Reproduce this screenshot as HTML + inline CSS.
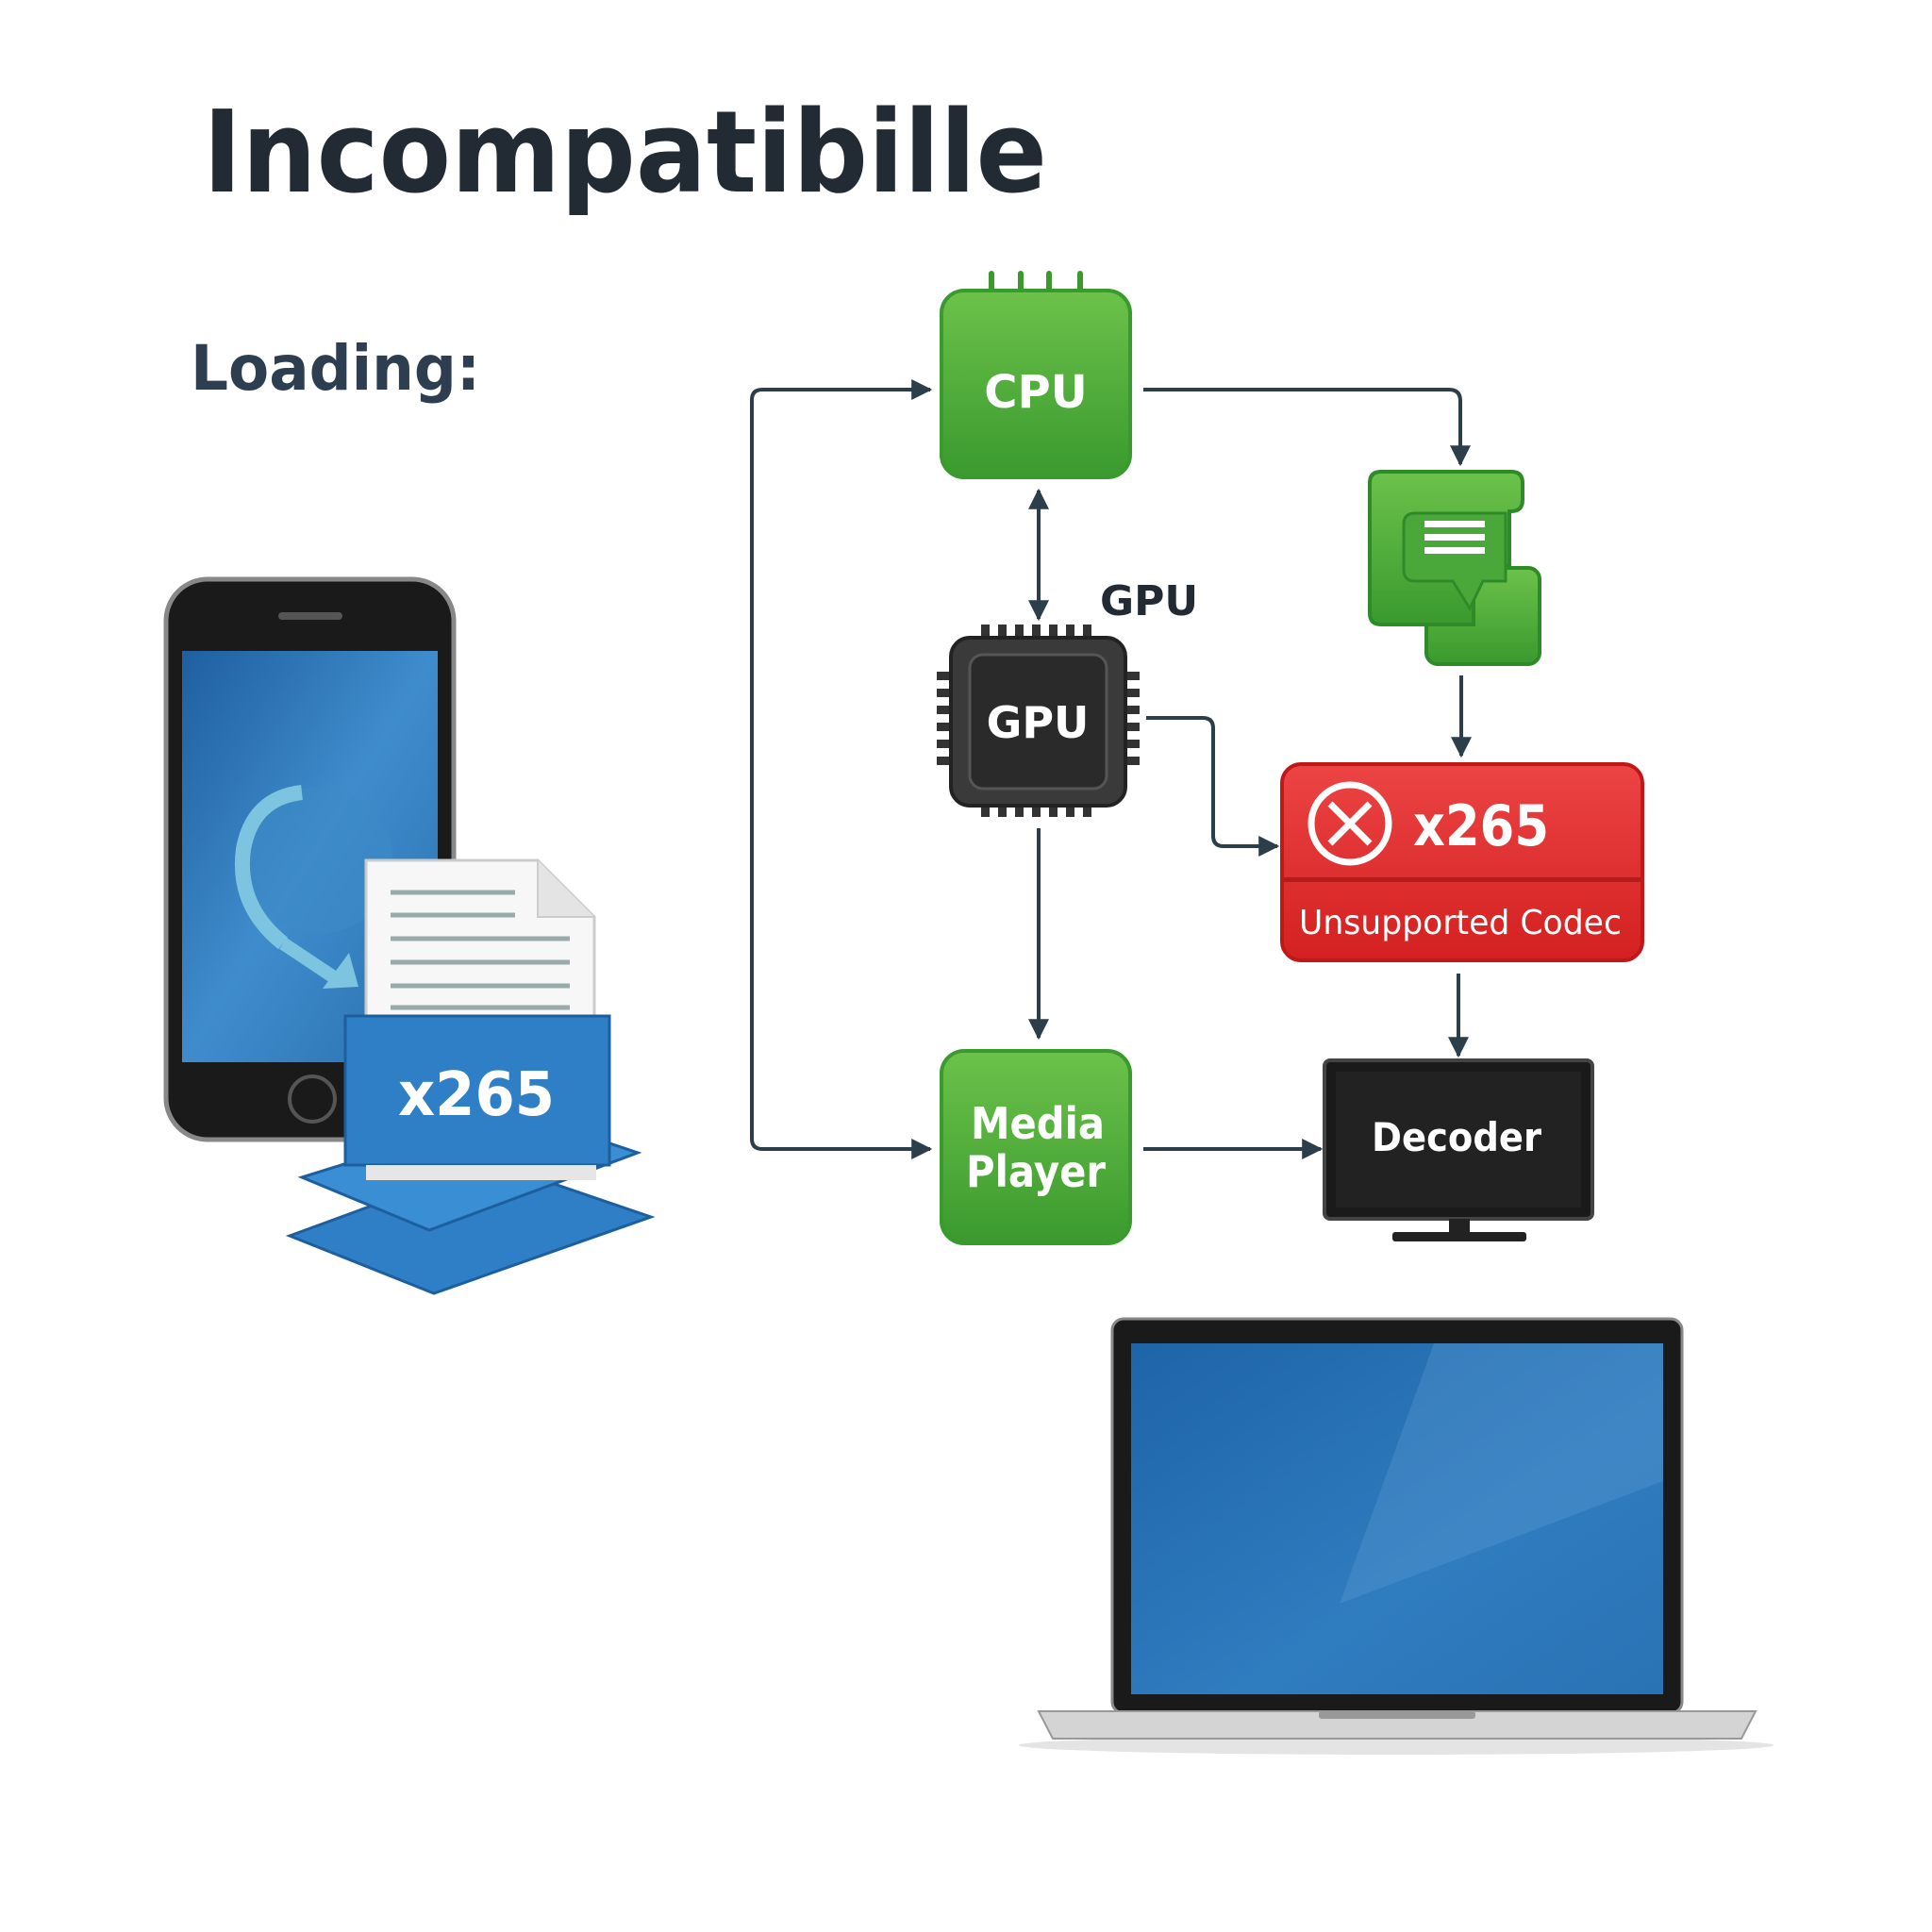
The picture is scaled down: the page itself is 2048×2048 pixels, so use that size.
<!DOCTYPE html>
<html><head><meta charset="utf-8"><style>
html,body{margin:0;padding:0;background:#fff;}
svg{display:block;}
text{font-family:"DejaVu Sans","Liberation Sans",sans-serif;font-weight:bold;}
</style></head><body>
<svg width="2048" height="2048" viewBox="0 0 2048 2048" xmlns="http://www.w3.org/2000/svg">
<defs>
<linearGradient id="gr" x1="0" y1="0" x2="0" y2="1"><stop offset="0" stop-color="#6cc24a"/><stop offset="1" stop-color="#3a9a2e"/></linearGradient>
<linearGradient id="rd" x1="0" y1="0" x2="0" y2="1"><stop offset="0" stop-color="#ec4444"/><stop offset="1" stop-color="#d42020"/></linearGradient>
<linearGradient id="bl" x1="0" y1="0" x2="1" y2="1"><stop offset="0" stop-color="#1f5fa0"/><stop offset="0.5" stop-color="#3f8ccc"/><stop offset="1" stop-color="#2a70b0"/></linearGradient>
<linearGradient id="lap" x1="0" y1="0" x2="1" y2="1"><stop offset="0" stop-color="#1e64a8"/><stop offset="0.6" stop-color="#2f7cbf"/><stop offset="1" stop-color="#2a72b4"/></linearGradient>
<marker id="a2" viewBox="0 0 10 10" markerWidth="22" markerHeight="22" refX="9" refY="5" orient="auto-start-reverse" markerUnits="userSpaceOnUse"><path d="M0,0 L10,5 L0,10 z" fill="#2c3e4a"/></marker>
</defs>

<text x="215" y="203" font-size="120" fill="#222b33" textLength="895" lengthAdjust="spacingAndGlyphs">Incompatibille</text>
<text x="202" y="413" font-size="66" fill="#2c3e50" textLength="307" lengthAdjust="spacingAndGlyphs">Loading:</text>

<g stroke="#2c3e4a" stroke-width="4" fill="none">
<path d="M986,413 H808 Q797,413 797,424 V1207 Q797,1218 808,1218 H986" marker-end="url(#a2)"/>
<path d="M808,413 H986" marker-end="url(#a2)"/>
<path d="M1212,413 H1536 Q1548,413 1548,425 V492" marker-end="url(#a2)"/>
<path d="M1101,520 V656" marker-start="url(#a2)" marker-end="url(#a2)"/>
<path d="M1215,761 H1275 Q1286,761 1286,772 V886 Q1286,897 1297,897 H1354" marker-end="url(#a2)"/>
<path d="M1549,716 V801" marker-end="url(#a2)"/>
<path d="M1101,878 V1100" marker-end="url(#a2)"/>
<path d="M1546,1032 V1119" marker-end="url(#a2)"/>
<path d="M1212,1218 H1400" marker-end="url(#a2)"/>
</g>

<g stroke="#3a9a2e" stroke-width="6" fill="none" stroke-linecap="round">
<path d="M1051,330 V290 M1082,330 V290 M1112,330 V290 M1145,330 V290"/>
</g>
<rect x="998" y="308" width="200" height="198" rx="24" fill="url(#gr)" stroke="#3a9a2e" stroke-width="4"/>
<text x="1098" y="432" font-size="48" fill="#fff" text-anchor="middle">CPU</text>

<text x="1166" y="652" font-size="44" fill="#222b33">GPU</text>
<g fill="#333">
<g id="pt"><rect x="1040" y="662" width="9" height="18"/><rect x="1058" y="662" width="9" height="18"/><rect x="1076" y="662" width="9" height="18"/><rect x="1094" y="662" width="9" height="18"/><rect x="1112" y="662" width="9" height="18"/><rect x="1130" y="662" width="9" height="18"/><rect x="1148" y="662" width="9" height="18"/></g>
<use href="#pt" transform="translate(0,186)"/>
<rect x="993" y="712" width="18" height="9"/><rect x="993" y="730" width="18" height="9"/><rect x="993" y="748" width="18" height="9"/><rect x="993" y="766" width="18" height="9"/><rect x="993" y="784" width="18" height="9"/><rect x="993" y="802" width="18" height="9"/>
<rect x="1190" y="712" width="18" height="9"/><rect x="1190" y="730" width="18" height="9"/><rect x="1190" y="748" width="18" height="9"/><rect x="1190" y="766" width="18" height="9"/><rect x="1190" y="784" width="18" height="9"/><rect x="1190" y="802" width="18" height="9"/>
</g>
<rect x="1008" y="676" width="185" height="178" rx="20" fill="#3a3a3a" stroke="#222" stroke-width="4"/>
<rect x="1028" y="694" width="145" height="142" rx="14" fill="#2a2a2a" stroke="#555" stroke-width="3"/>
<text x="1100" y="782" font-size="46" fill="#fff" text-anchor="middle">GPU</text>

<rect x="1512" y="602" width="120" height="102" rx="12" fill="url(#gr)" stroke="#2f8a2a" stroke-width="4"/>
<path d="M1464,500 H1602 Q1614,500 1614,512 V530 Q1614,542 1602,542 H1600 V600 H1562 V662 H1464 Q1452,662 1452,650 V512 Q1452,500 1464,500 z" fill="url(#gr)" stroke="#2f8a2a" stroke-width="4"/>
<path d="M1500,544 H1596 V616 H1572 L1558,645 L1540,616 H1500 Q1488,616 1488,604 V556 Q1488,544 1500,544 z" fill="#4aa83a" stroke="#2f8a2a" stroke-width="3"/>
<rect x="1510" y="552" width="64" height="7" fill="#fff"/><rect x="1510" y="566" width="64" height="7" fill="#fff"/><rect x="1510" y="580" width="64" height="7" fill="#fff"/>

<rect x="1359" y="810" width="382" height="208" rx="20" fill="url(#rd)" stroke="#c01818" stroke-width="4"/>
<rect x="1361" y="930" width="378" height="5" fill="#b81a1a"/>
<circle cx="1431" cy="873" r="41" fill="none" stroke="#fff" stroke-width="7"/>
<path d="M1410,852 L1452,894 M1452,852 L1410,894" stroke="#fff" stroke-width="7"/>
<text x="1498" y="896" font-size="60" fill="#fff" textLength="144" lengthAdjust="spacingAndGlyphs">x265</text>
<text x="1548" y="990" font-size="36" fill="#fff" text-anchor="middle" style="font-weight:normal" textLength="342" lengthAdjust="spacingAndGlyphs">Unsupported Codec</text>

<rect x="998" y="1114" width="200" height="204" rx="24" fill="url(#gr)" stroke="#3a9a2e" stroke-width="4"/>
<text x="1100" y="1207" font-size="46" fill="#fff" text-anchor="middle" textLength="142" lengthAdjust="spacingAndGlyphs">Media</text>
<text x="1098" y="1258" font-size="46" fill="#fff" text-anchor="middle" textLength="148" lengthAdjust="spacingAndGlyphs">Player</text>

<rect x="1404" y="1124" width="284" height="168" rx="6" fill="#1a1a1a" stroke="#444" stroke-width="4"/>
<rect x="1416" y="1136" width="260" height="144" fill="#222"/>
<rect x="1536" y="1292" width="22" height="16" fill="#222"/>
<rect x="1476" y="1306" width="142" height="10" rx="3" fill="#222"/>
<text x="1544" y="1220" font-size="42" fill="#fff" text-anchor="middle" textLength="180" lengthAdjust="spacingAndGlyphs">Decoder</text>

<ellipse cx="1480" cy="1850" rx="400" ry="10" fill="#e4e4e4"/>
<rect x="1179" y="1398" width="604" height="418" rx="12" fill="#1a1a1a" stroke="#888" stroke-width="3"/>
<rect x="1199" y="1424" width="564" height="372" fill="url(#lap)"/>
<path d="M1520,1424 H1763 V1570 L1420,1700 z" fill="#5b9bd0" opacity="0.35"/>
<path d="M1101,1814 H1861 L1846,1843 H1116 z" fill="#d4d4d4" stroke="#999" stroke-width="2"/>
<rect x="1398" y="1814" width="166" height="8" rx="3" fill="#999"/>

<rect x="176" y="614" width="305" height="594" rx="44" fill="#1a1a1a" stroke="#888" stroke-width="5"/>
<rect x="193" y="690" width="271" height="436" fill="url(#bl)"/>
<rect x="295" y="649" width="68" height="8" rx="4" fill="#555"/>
<circle cx="331" cy="1165" r="24" fill="none" stroke="#555" stroke-width="4"/>
<circle cx="338" cy="912" r="78" fill="#3d8ac8" opacity="0.6"/>
<path d="M300,1000 Q250,960 258,900 Q268,846 320,840" fill="none" stroke="#7cc4e0" stroke-width="16"/>
<path d="M300,1000 L360,1040" stroke="#7cc4e0" stroke-width="14"/>
<path d="M342,1048 L380,1046 L370,1010 z" fill="#7cc4e0"/>

<path d="M307,1310 L460,1371 L690,1290 L520,1232 z" fill="#2f7fc7" stroke="#1d5f9e" stroke-width="3"/>
<path d="M320,1248 L455,1304 L676,1222 L545,1178 z" fill="#3a8fd4" stroke="#1d5f9e" stroke-width="3"/>
<path d="M388,912 H570 L630,972 V1084 H388 z" fill="#f7f7f7" stroke="#ccc" stroke-width="3"/>
<path d="M570,912 V972 H630" fill="#e4e4e4" stroke="#ccc" stroke-width="2"/>
<g stroke="#9aa" stroke-width="5"><path d="M414,946 H546 M414,970 H546 M414,995 H604 M414,1020 H604 M414,1045 H604 M414,1068 H604"/></g>
<rect x="366" y="1077" width="280" height="158" fill="#2f7fc7" stroke="#1d5f9e" stroke-width="3"/>
<rect x="388" y="1235" width="244" height="16" fill="#e6e6e6"/>
<text x="505" y="1182" font-size="64" fill="#fff" text-anchor="middle" textLength="166" lengthAdjust="spacingAndGlyphs">x265</text>
</svg>
</body></html>
